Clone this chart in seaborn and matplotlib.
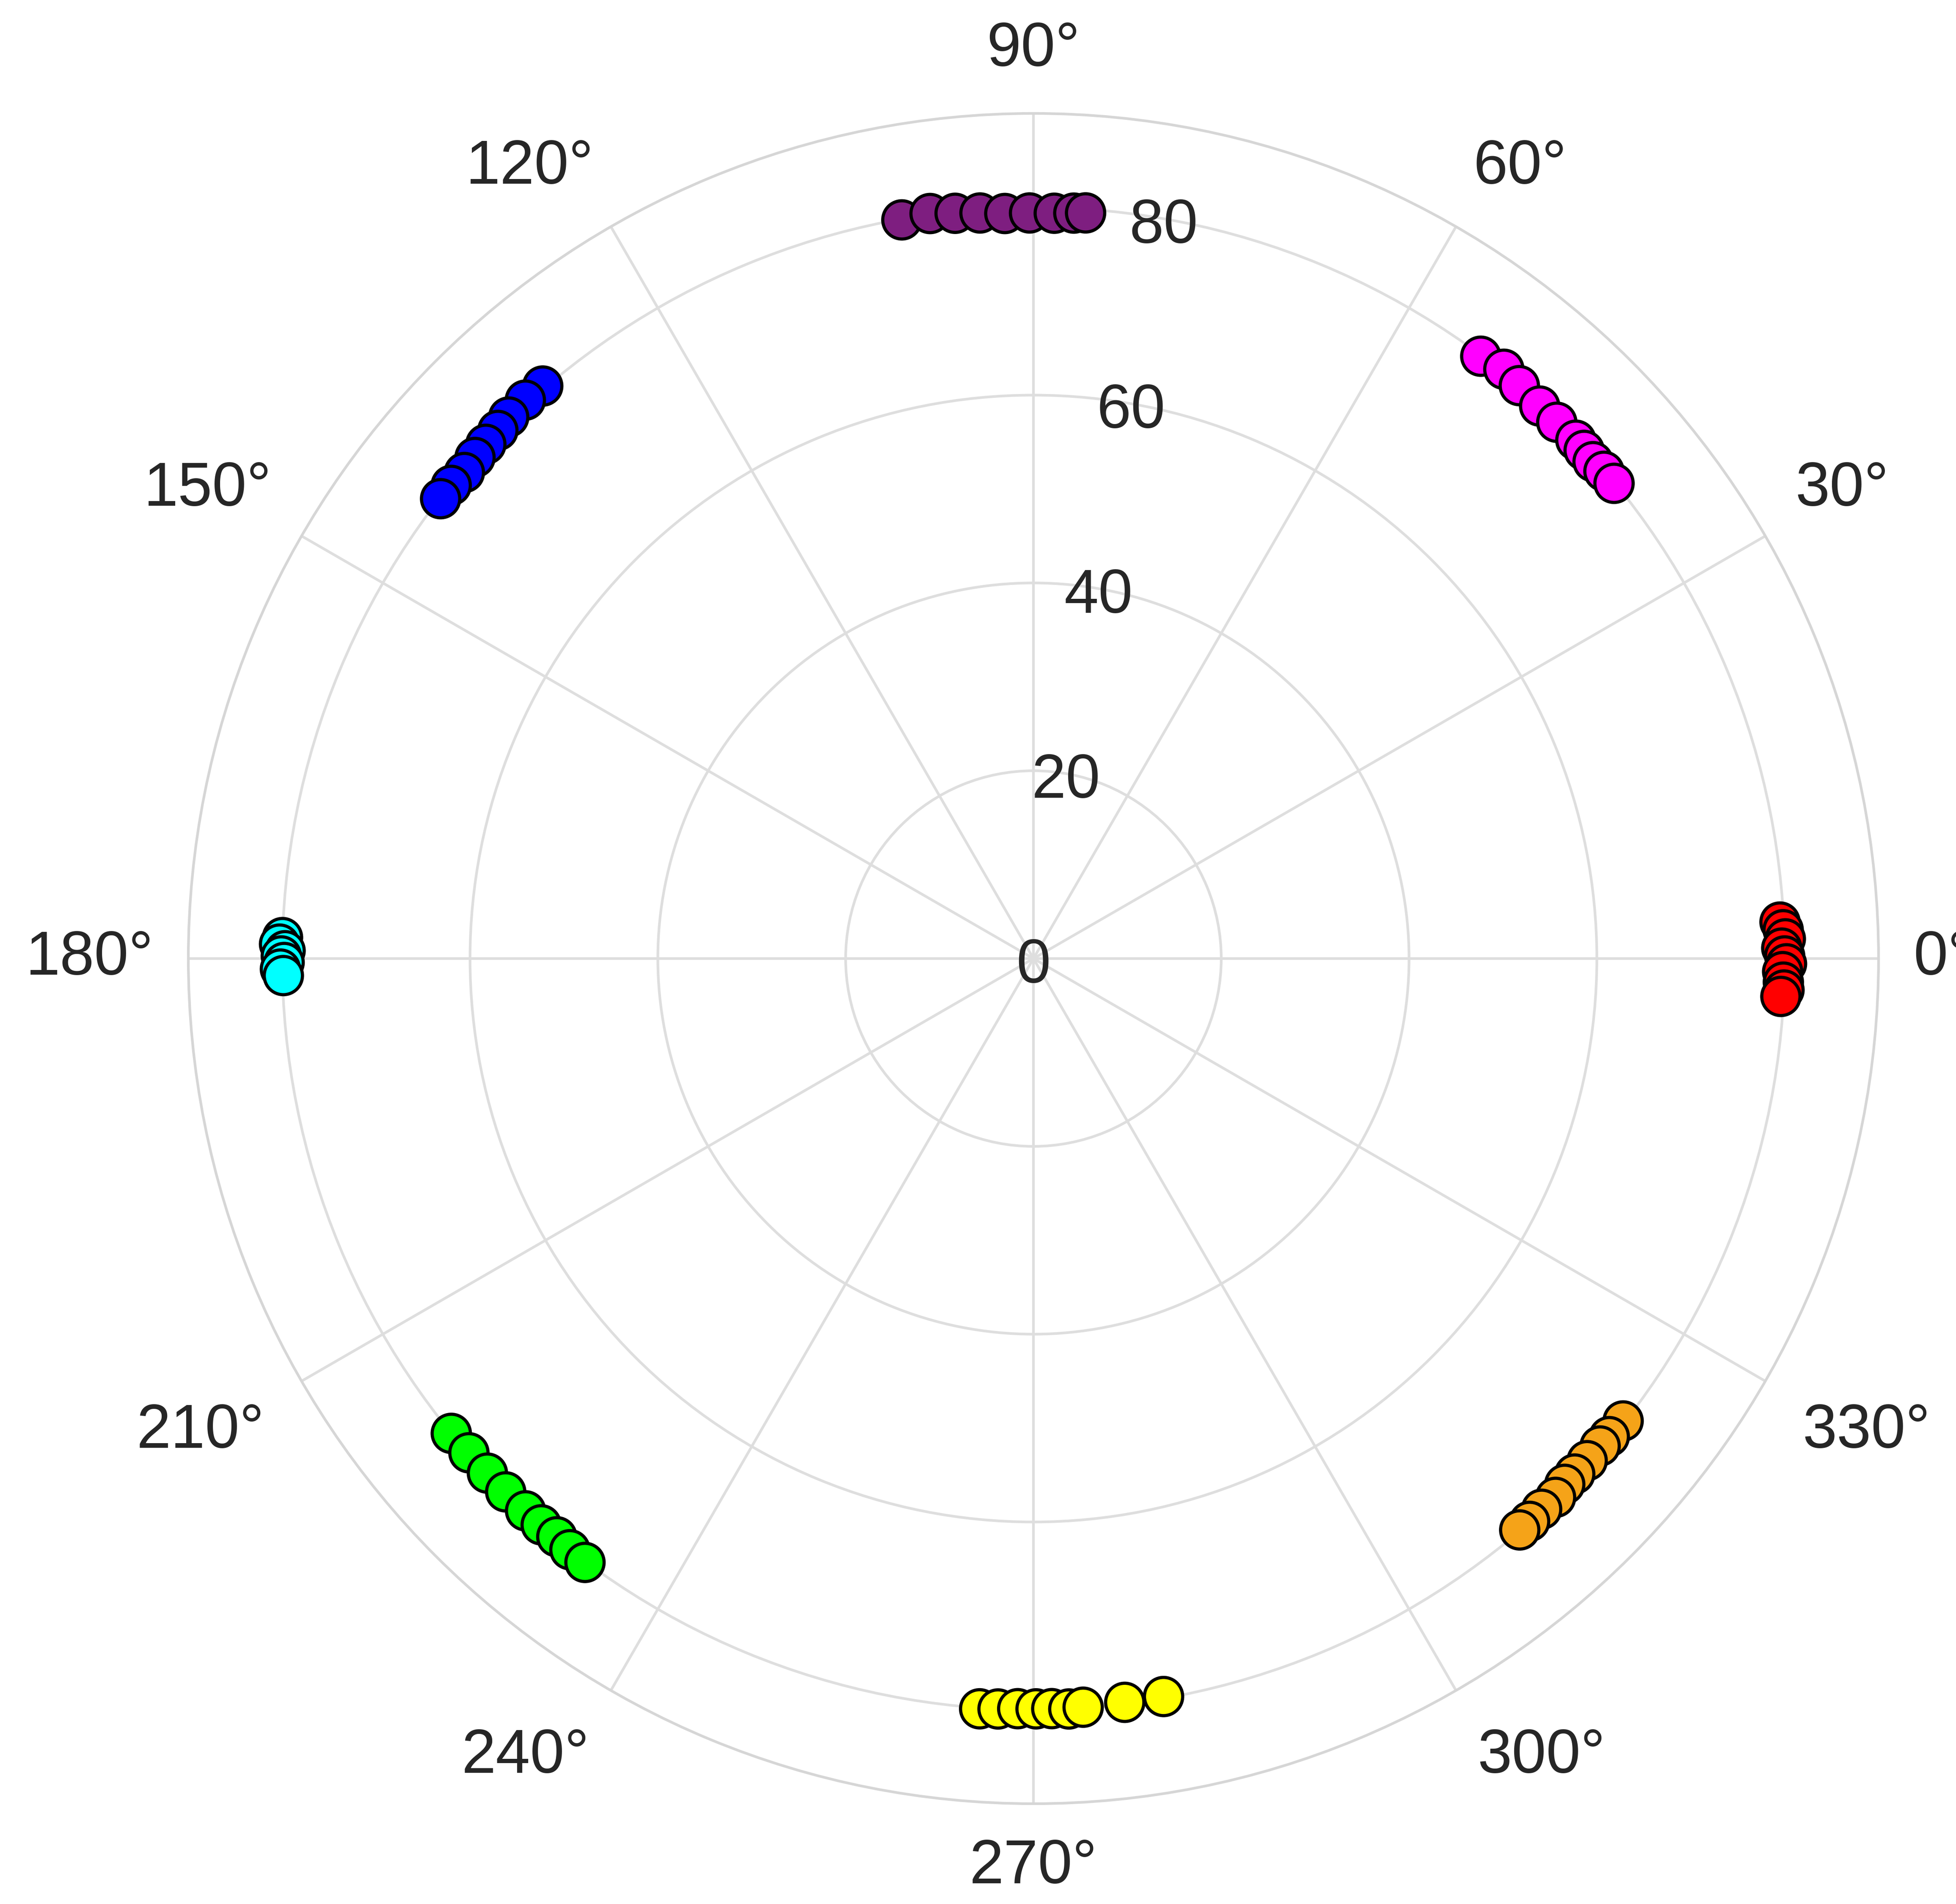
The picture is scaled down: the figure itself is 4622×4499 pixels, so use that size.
import numpy as np
import pandas as pd
import matplotlib
matplotlib.use("Agg")
import matplotlib.pyplot as plt
import matplotlib.transforms as mtransforms
import seaborn as sns

# cluster data: angle in degrees, radius
red_deg = [2.8, 2.2, 1.5, 0.8, 0.2, -0.4, -1.0, -1.8, -2.4, -2.9]
red_r = [79.6, 79.9, 80.1, 79.7, 80.0, 80.2, 79.8, 79.9, 80.0, 79.7]

magenta_deg = [53.4, 51.4, 49.7, 47.5, 45.7, 43.7, 42.7, 41.6, 40.5, 39.3]
magenta_r = [79.9, 80.3, 80.0, 79.8, 79.8, 79.9, 79.8, 79.7, 79.9, 79.9]

purple_deg = [100.1, 97.9, 96.0, 94.1, 92.2, 90.3, 88.4, 86.9, 86.0]
purple_r = [79.9, 80.1, 79.8, 79.6, 79.4, 79.4, 79.4, 79.5, 79.6]

blue_deg = [130.6, 132.3, 134.1, 135.4, 136.8, 138.1, 139.5, 140.9, 142.2]
blue_r = [80.3, 80.4, 80.3, 80.1, 80.0, 79.9, 79.7, 79.9, 79.9]

cyan_deg = [178.4, 178.9, 179.4, 179.8, 180.3, 180.8, 181.3]
cyan_r = [80.0, 80.3, 79.7, 80.1, 79.8, 80.2, 79.9]

green_deg = [219.2, 221.2, 223.3, 225.3, 227.4, 229.0, 230.5, 231.9, 233.4]
green_r = [80.0, 79.9, 79.9, 79.9, 79.9, 79.9, 79.8, 80.0, 80.1]

yellow_deg = [265.9, 267.3, 268.8, 270.2, 271.4, 272.7, 273.8, 277.0, 280.0]
yellow_r = [80.1, 80.0, 79.9, 79.9, 79.9, 80.0, 79.9, 79.8, 79.8]

orange_deg = [321.9, 320.3, 319.3, 317.8, 316.4, 315.3, 314.1, 312.7, 311.4, 310.4]
orange_r = [79.8, 79.7, 79.6, 79.6, 79.6, 79.6, 79.9, 79.8, 79.9, 79.9]

groups = {
    "red": (red_deg, red_r, "#ff0000"),
    "magenta": (magenta_deg, magenta_r, "#ff00ff"),
    "purple": (purple_deg, purple_r, "#7e1e80"),
    "blue": (blue_deg, blue_r, "#0000ff"),
    "cyan": (cyan_deg, cyan_r, "#00ffff"),
    "green": (green_deg, green_r, "#00ff00"),
    "yellow": (yellow_deg, yellow_r, "#ffff00"),
    "orange": (orange_deg, orange_r, "#f5a318"),
}

r_ticks = [0, 20, 40, 60, 80]
theta_ticks = list(range(0, 360, 30))
r_max = 90

rows = []
for name, (degs, rs, _) in groups.items():
    for d, r in zip(degs, rs):
        rows.append({"group": name, "theta": np.deg2rad(d), "r": r})
df = pd.DataFrame(rows)
palette = {name: v[2] for name, v in groups.items()}

sns.set_style("white")
plt.rcParams["font.family"] = ["Liberation Sans", "DejaVu Sans"]

W, H = 4622, 4499
fig = plt.figure(figsize=(W / 300, H / 300), dpi=300)
cx, cy, rad = 2442, 2265, 1997
ax = fig.add_axes([(cx - rad) / W, (H - cy - rad) / H, 2 * rad / W, 2 * rad / H],
                  projection="polar")

sns.scatterplot(data=df, x="theta", y="r", hue="group", palette=palette,
                s=470, edgecolor="black", linewidth=1.8, legend=False,
                ax=ax, zorder=3)

ax.set_ylim(0, r_max)
ax.set_yticks(r_ticks)
ax.set_yticklabels([])
ax.set_xticks(np.deg2rad(theta_ticks))
ax.set_xticklabels([])
ax.set_xlabel("")
ax.set_ylabel("")
ax.grid(True, color="#dedede", linewidth=1.5)
ax.spines["polar"].set_color("#d6d6d6")
ax.spines["polar"].set_linewidth(1.5)

txt_color = "#262626"
fs = 35

# radial labels along the 80 degree spoke
rlab_tr = mtransforms.offset_copy(ax.transData, fig=fig, x=0, y=-4.5, units="points")
for r in r_ticks:
    ax.text(np.deg2rad(80), r, str(r), ha="center", va="center",
            fontsize=fs, color=txt_color, zorder=4, transform=rlab_tr)

# angle labels outside the circle, anchored by their inner edge
for t in theta_ticks:
    c, s_ = np.cos(np.deg2rad(t)), np.sin(np.deg2rad(t))
    ha = "left" if c > 0.1 else ("right" if c < -0.1 else "center")
    va = "bottom" if s_ > 0.1 else ("top" if s_ < -0.1 else "center")
    rr = 93.7
    if -0.9 < s_ < -0.1:
        rr = 94.6
    ax.text(np.deg2rad(t), rr, f"{t}\u00b0", ha=ha, va=va, fontsize=fs,
            color=txt_color, clip_on=False)

fig.savefig("out.png", dpi=300, facecolor="white")
